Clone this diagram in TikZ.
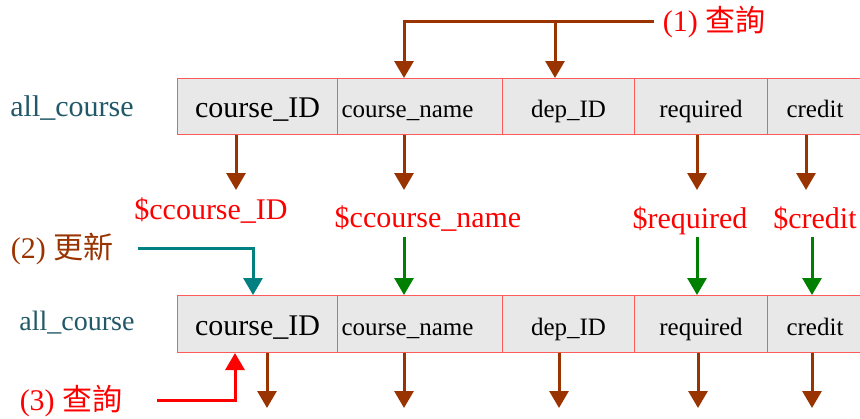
\documentclass[tikz,border=0pt]{standalone}
\usepackage{fontspec}
\setmainfont{Liberation Serif}
\newfontfamily\cjk{Noto Sans CJK TC}
\usetikzlibrary{arrows.meta}
\definecolor{brn}{HTML}{993300}
\definecolor{tealc}{HTML}{008080}
\definecolor{grn}{HTML}{008000}
\definecolor{tblname}{HTML}{215968}
\definecolor{cellred}{HTML}{FF5A5A}
\definecolor{cellgray}{HTML}{E8E8E8}
\newcommand\fsz[1]{\fontsize{#1}{#1}\selectfont}
\begin{document}
\begin{tikzpicture}
			[x=1pt,y=-1pt,
			cell/.style={draw=cellred,fill=cellgray,line width=1pt,inner sep=0pt,text height=22pt,text depth=0pt,anchor=north west,font=\fsz{25}},
			cellL/.style={cell,align=left,inner xsep=4pt,text width=157pt},
			arr/.style={line width=3pt,-{Triangle[length=17pt,width=19pt]}},
			var/.style={text=red,font=\fsz{30}}]
			\useasboundingbox (0,0) rectangle (860,418);
			% table names
			\node[text=tblname,font=\fsz{30}] (n1) at (72,108) {all\_course};
			\node[text=tblname,font=\fsz{28}] (n2) at (77,323) {all\_course};
			% upper row
			\node[cell,minimum width=160pt,minimum height=56pt,font=\fsz{30}] (t1) at (177,78) {course\_ID};
			\node[cellL,minimum height=56pt] (t2) at (337,78) {course\_name};
			\node[cell,minimum width=132pt,minimum height=56pt] (t3) at (502,78) {dep\_ID};
			\node[cell,minimum width=133pt,minimum height=56pt] (t4) at (634,78) {required};
			\node[cell,minimum width=95pt,minimum height=56pt] (t5) at (767,78) {credit};
			% lower row
			\node[cell,minimum width=160pt,minimum height=57pt,font=\fsz{30}] (b1) at (177,295) {course\_ID};
			\node[cellL,minimum height=57pt] (b2) at (337,295) {course\_name};
			\node[cell,minimum width=132pt,minimum height=57pt] (b3) at (502,295) {dep\_ID};
			\node[cell,minimum width=133pt,minimum height=57pt] (b4) at (634,295) {required};
			\node[cell,minimum width=95pt,minimum height=57pt] (b5) at (767,295) {credit};
			% variables
			\node[var] (v1) at (211,211) {\$ccourse\_ID};
			\node[var] (v2) at (428,219) {\$ccourse\_name};
			\node[var] (v3) at (690,221) {\$required};
			\node[var] (v4) at (815,219) {\$credit};
			% step labels
			\node[text=red,font=\fsz{30}] (q1) at (714,22) {(1) {\cjk 查詢}};
			\node[text=brn,font=\fsz{30}] (u2) at (62,249) {(2) {\cjk 更新}};
			\node[text=red,font=\fsz{30}] (q3) at (71,401) {(3) {\cjk 查詢}};
			% (1) query
			\draw[arr,brn] ([xshift=-5pt]q1.west |- 0,21) -- (404,21) -- (404,0 |- t2.north);
			\draw[arr,brn] (555,21) -- (555,0 |- t3.north);
			\draw[arr,brn] (236,0 |- t1.south) -- (236,190);
			\draw[arr,brn] (404,0 |- t2.south) -- (404,190);
			\draw[arr,brn] (697,0 |- t4.south) -- (697,190);
			\draw[arr,brn] (806,0 |- t5.south) -- (806,190);
			% (2) update
			\draw[arr,tealc] (138,248) -- (253,248) -- (253,0 |- b1.north);
			\draw[arr,grn] (404,237) -- (404,0 |- b2.north);
			\draw[arr,grn] (697,237) -- (697,0 |- b4.north);
			\draw[arr,grn] (812,237) -- (812,0 |- b5.north);
			% (3) query
			\draw[arr,red] (157,400) -- (235,400) -- (235,0 |- b1.south);
			\draw[arr,brn] (267,0 |- b1.south) -- (267,408);
			\draw[arr,brn] (404,0 |- b2.south) -- (404,408);
			\draw[arr,brn] (559,0 |- b3.south) -- (559,408);
			\draw[arr,brn] (698,0 |- b4.south) -- (698,408);
			\draw[arr,brn] (812,0 |- b5.south) -- (812,408);
		\end{tikzpicture}
\end{document}
